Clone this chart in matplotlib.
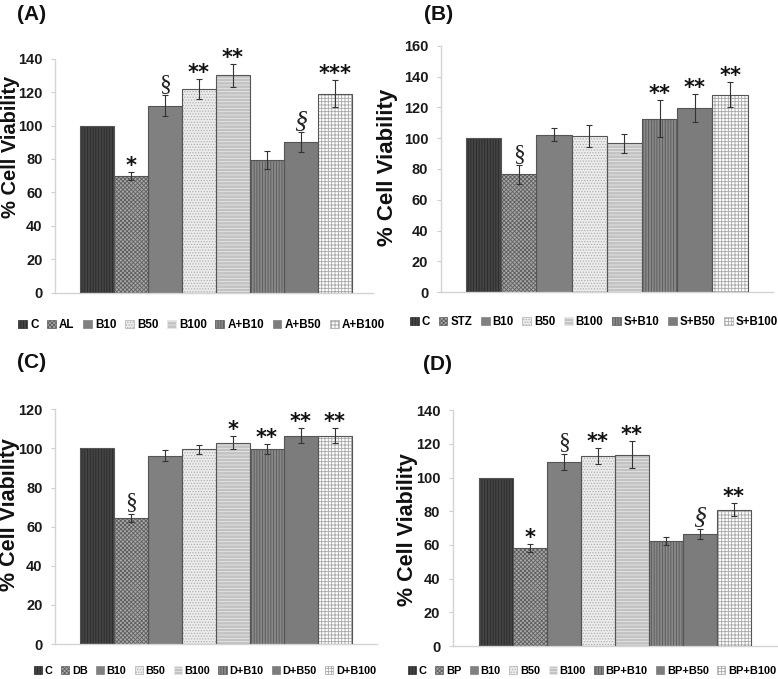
import matplotlib
matplotlib.use('Agg')
import matplotlib.pyplot as plt
from matplotlib.patches import Patch

plt.rcParams['hatch.linewidth'] = 0.6

labels_A = ['C', 'AL', 'B10', 'B50', 'B100', 'A+B10', 'A+B50', 'A+B100']
vals_A = [100, 70, 112, 122, 130, 79.5, 90, 119]
err_A = [0, 2.5, 6, 6, 7, 5.5, 6, 8]
marks_A = ['', '*', '§', '**', '**', '', 'S', '***']

labels_B = ['C', 'STZ', 'B10', 'B50', 'B100', 'S+B10', 'S+B50', 'S+B100']
vals_B = [100, 76.5, 102.3, 101.4, 96.6, 112.6, 119.6, 128.2]
err_B = [0, 6, 4, 7, 6, 12, 9, 8]
marks_B = ['', '§', '', '', '', '**', '**', '**']

labels_C = ['C', 'DB', 'B10', 'B50', 'B100', 'D+B10', 'D+B50', 'D+B100']
vals_C = [100, 64.4, 96.3, 99.5, 103, 99.7, 106.5, 106.5]
err_C = [0, 2.2, 2.7, 2.3, 3.4, 2.8, 3.7, 3.7]
marks_C = ['', '§', '', '', '*', '**', '**', '**']

labels_D = ['C', 'BP', 'B10', 'B50', 'B100', 'BP+B10', 'BP+B50', 'BP+B100']
vals_D = [100, 58.2, 109.5, 112.9, 113.7, 62.4, 66.5, 81]
err_D = [0, 2.2, 4.8, 5, 8.2, 2.3, 3, 3.8]
marks_D = ['', '*', '§', '**', '**', '', 'S', '**']

# fill / hatch for the 8 bar kinds (same order in every panel)
faces = ['#444444', '#a8a8a8', '#808080', '#ececec', '#c2c2c2', '#888888', '#7c7c7c', '#ffffff']
hatches = ['||||||', 'xxxxxxxx', None, '......', '-----', '||||||', None, '+++++']
hcols = ['#2a2a2a', '#5e5e5e', '#808080', '#b0b0b0', '#e8e8e8', '#585858', '#7c7c7c', '#a6a6a6']

W, H = 778, 679
fig = plt.figure(figsize=(W / 100, H / 100), dpi=100)

sans = 'Liberation Sans'


def px_axes(l, r, b, t):
    return fig.add_axes([l / W, 1 - b / H, (r - l) / W, (b - t) / H])


def panel(ax, labels, vals, errs, marks, ymax, xlim):
    x = range(len(vals))
    for i in x:
        ax.bar(i, vals[i], width=1, color=faces[i], edgecolor=hcols[i],
               hatch=hatches[i], linewidth=0, zorder=2)
    ax.bar(x, vals, width=1, fill=False, edgecolor='#555555', linewidth=0.8, zorder=3)
    xe = [i for i in x if errs[i] > 0]
    ax.errorbar(xe, [vals[i] for i in xe], yerr=[errs[i] for i in xe], fmt='none',
                ecolor='#333333', elinewidth=0.8, capsize=2, capthick=0.8, zorder=4)
    for i, m in enumerate(marks):
        if not m:
            continue
        top = vals[i] + errs[i]
        if m == '§':
            ax.annotate(m, (i, top), xytext=(0, 4), textcoords='offset points',
                        ha='center', va='baseline', fontsize=17, family='Liberation Serif',
                        color='#222222', zorder=5)
        elif m == 'S':
            ax.annotate('§', (i, top), xytext=(0, 4), textcoords='offset points',
                        ha='center', va='baseline', fontsize=19, family='Liberation Serif',
                        style='italic', color='#222222', zorder=5)
        else:
            ax.annotate(m, (i, top), xytext=(0, 0), textcoords='offset points',
                        ha='center', va='baseline', fontsize=15, family='DejaVu Sans',
                        fontweight='bold', color='#111111', zorder=5)
    ax.set_xlim(*xlim)
    ax.set_ylim(0, ymax)
    ax.set_yticks(range(0, ymax + 1, 20))
    ax.set_xticks([])
    for s in ['top', 'right']:
        ax.spines[s].set_visible(False)
    for s in ['left', 'bottom']:
        ax.spines[s].set_color('#d4d4d4')
        ax.spines[s].set_linewidth(1)
    ax.tick_params(axis='y', length=3, width=0.8, color='#cfcfcf', pad=6,
                   labelsize=10.5, labelcolor='#1a1a1a')
    for t in ax.get_yticklabels():
        t.set_family(sans)
        t.set_fontweight('bold')


def legend(labels, cx, cy, size):
    handles = [Patch(facecolor=faces[i], edgecolor=hcols[i], hatch=hatches[i], linewidth=0.5)
               for i in range(len(labels))]
    fig.legend(handles, labels, loc='center', bbox_to_anchor=(cx / W, 1 - cy / H), ncol=8,
               frameon=False, handlelength=0.75, handleheight=0.75, handletextpad=0.26,
               columnspacing=0.75, borderpad=0,
               prop={'family': sans, 'weight': 'bold', 'size': size})


axA = px_axes(55, 373, 292.7, 58.7)
panel(axA, labels_A, vals_A, err_A, marks_A, 140, (-1.24, 8.13))
axB = px_axes(440.7, 773, 292.3, 45.7)
panel(axB, labels_B, vals_B, err_B, marks_B, 160, (-1.22, 8.22))
axC = px_axes(55, 376.7, 644, 409.3)
panel(axC, labels_C, vals_C, err_C, marks_C, 120, (-1.24, 8.24))
axD = px_axes(452.7, 776.7, 646, 410.3)
panel(axD, labels_D, vals_D, err_D, marks_D, 140, (-1.265, 8.265))

legend(labels_A, 201.5, 325, 8.4)
legend(labels_B, 594, 322, 8.3)
legend(labels_C, 205, 671, 7.8)
legend(labels_D, 592, 671, 7.9)

ylab = dict(rotation=90, ha='center', va='center', family=sans,
            fontweight='bold', color='#111111')
fig.text(10.5 / W, 1 - 146.5 / H, '% Cell Viability', fontsize=14.5, **ylab)
fig.text(387 / W, 1 - 167 / H, '% Cell Viability', fontsize=16, **ylab)
fig.text(9.5 / W, 1 - 515 / H, '% Cell Viability', fontsize=15.5, **ylab)
fig.text(407 / W, 1 - 530 / H, '% Cell Viability', fontsize=15.5, **ylab)

ttl = dict(ha='left', va='center', family=sans, fontweight='bold',
           fontsize=15, color='#111111')
fig.text(17 / W, 1 - 15 / H, '(A)', **ttl)
fig.text(424 / W, 1 - 15 / H, '(B)', **ttl)
fig.text(17 / W, 1 - 363 / H, '(C)', **ttl)
fig.text(423 / W, 1 - 365 / H, '(D)', **ttl)

fig.savefig('out.png', dpi=100)
